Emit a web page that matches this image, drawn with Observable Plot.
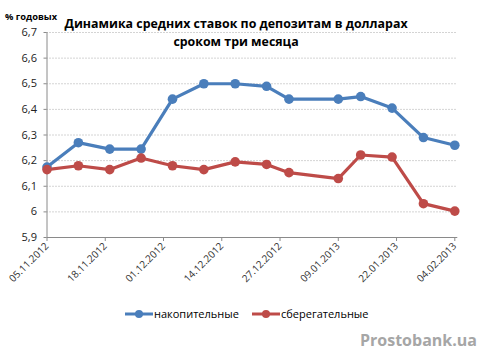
<!DOCTYPE html>
<html>
<head>
<meta charset="utf-8">
<script src="https://cdn.jsdelivr.net/npm/d3@7"></script>
<script src="https://cdn.jsdelivr.net/npm/@observablehq/plot@0.6"></script>
<style>
  html, body { margin: 0; padding: 0; background: #fff; }
  #wrap { position: relative; width: 480px; height: 363px; overflow: hidden; font-family: "Open Sans", "Liberation Sans", sans-serif; }
  #chart { position: absolute; left: 0; top: 0; }
  .title { position: absolute; left: 0; width: 472px; text-align: center; font-weight: bold; font-size: 12.4px; color: #000; line-height: 18px; }
  .unit { position: absolute; left: 5px; top: 10px; font-weight: bold; font-size: 9.3px; color: #000; }
  .legend { position: absolute; top: 306px; font-size: 11px; color: #000; display: flex; align-items: center; }
  .legend svg { margin-right: 1px; }
  .wm { position: absolute; left: 360px; top: 329px; font-weight: bold; font-size: 16px; color: #a6a6a6; }
</style>
</head>
<body>
<div id="wrap">
  <div id="chart"></div>
  <div class="title" style="top:15px">Динамика средних ставок по депозитам в долларах</div>
  <div class="title" style="top:33px">сроком три месяца</div>
  <div class="unit">% годовых</div>
  <div id="legend"></div>
  <div class="wm">Prostobank.ua</div>
</div>
<script>
const dates = ["2012-11-05","2012-11-12","2012-11-19","2012-11-26","2012-12-03","2012-12-10","2012-12-17","2012-12-24","2012-12-29","2013-01-09","2013-01-14","2013-01-21","2013-01-28","2013-02-04"];
const nakopitelnye = [6.175, 6.27, 6.245, 6.245, 6.44, 6.50, 6.50, 6.49, 6.44, 6.44, 6.45, 6.405, 6.29, 6.26];
const sberegatelnye = [6.165, 6.18, 6.165, 6.21, 6.18, 6.165, 6.195, 6.185, 6.153, 6.13, 6.222, 6.214, 6.032, 6.003];
const seriesNames = ["накопительные", "сберегательные"];
const seriesColors = ["#4a7ebb", "#be4b48"];
const xTickLabels = ["05.11.2012","18.11.2012","01.12.2012","14.12.2012","27.12.2012","09.01.2013","22.01.2013","04.02.2013"];
const yTicks = [5.9, 6.0, 6.1, 6.2, 6.3, 6.4, 6.5, 6.6, 6.7];

const parseD = d3.utcParse("%Y-%m-%d");
const parseL = d3.utcParse("%d.%m.%Y");
const xTicks = xTickLabels.map(parseL);
const d0 = xTicks[0];
const d1 = xTicks[xTicks.length - 1];
const dEnd = d3.utcHour.offset(d1, 16);

const data = [];
[nakopitelnye, sberegatelnye].forEach((vals, i) => {
  vals.forEach((v, j) => data.push({date: parseD(dates[j]), value: v, series: seriesNames[i]}));
});

const fmtY = v => String(+v.toFixed(1)).replace(".", ",");
const fmtX = d3.utcFormat("%d.%m.%Y");

const plot = Plot.plot({
  width: 480,
  height: 363,
  marginLeft: 46.5,
  marginRight: 25.7,
  marginTop: 32,
  marginBottom: 126,
  style: {fontFamily: "'Open Sans', 'Liberation Sans', sans-serif", fontSize: "10px", background: "transparent", color: "#222"},
  x: {type: "utc", domain: [d0, d1]},
  y: {domain: [5.9, 6.7]},
  color: {domain: seriesNames, range: seriesColors},
  marks: [
    Plot.ruleY(yTicks.slice(1), {x1: () => d0, x2: () => dEnd, stroke: "#a8a8a8", strokeDasharray: "1,2", strokeWidth: 1}),
    Plot.ruleX([d0], {stroke: "#8a8a8a"}),
    Plot.ruleY([5.9], {x1: () => d0, x2: () => dEnd, stroke: "#8a8a8a"}),
    Plot.axisX({ticks: xTicks, tickFormat: fmtX, tickRotate: -45, tickSize: 4, tickPadding: 3, stroke: "#8a8a8a", fill: "#333", label: null}),
    Plot.axisY({ticks: yTicks, tickFormat: fmtY, tickSize: 3, tickPadding: 7, stroke: "#8a8a8a", fill: "#222", fontSize: 11, label: null}),
    Plot.line(data, {x: "date", y: "value", z: "series", stroke: "series", strokeWidth: 3.2, curve: "linear"}),
    Plot.dot(data, {x: "date", y: "value", fill: "series", r: 4.8})
  ]
});
document.getElementById("chart").appendChild(plot);

// legend
const legendPos = [125, 252];
const leg = document.getElementById("legend");
seriesNames.forEach((name, i) => {
  const div = document.createElement("div");
  div.className = "legend";
  div.style.left = legendPos[i] + "px";
  div.innerHTML = `<svg width="28" height="10"><line x1="0" y1="5" x2="28" y2="5" stroke="${seriesColors[i]}" stroke-width="3"/><circle cx="14" cy="5" r="4" fill="${seriesColors[i]}"/></svg><span>${name}</span>`;
  leg.appendChild(div);
});
</script>
</body>
</html>
